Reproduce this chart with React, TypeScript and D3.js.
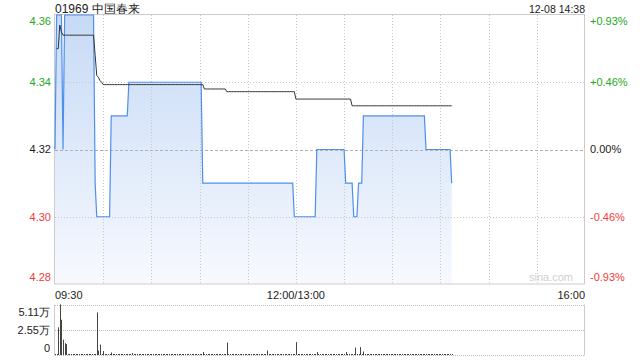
import React from "react";
import * as d3 from "d3";

const W = 640;
const H = 360;

const titleText = "01969 中国春来";
const stampText = "12-08 14:38";
const prevClose = 4.32;
const priceTicks = [4.28, 4.3, 4.32, 4.34, 4.36];
const pctLabels = ["-0.93%", "-0.46%", "0.00%", "+0.46%", "+0.93%"];
const timeLabels = ["09:30", "12:00/13:00", "16:00"];
const timeLabelMinutes = [0, 150, 330];
const volTicks = [0, 2.55, 5.11];
const volTickLabels = ["0", "2.55万", "5.11万"];
const watermark = "sina.com";

// price runs: [price, number of minutes], starting at minute 0 (09:30)
const priceRuns: [number, number][] = [
  [4.32, 1], [4.36, 4], [4.32, 1], [4.36, 19], [4.31, 1], [4.3, 9],
  [4.33, 11], [4.34, 46], [4.31, 57], [4.3, 14], [4.32, 18], [4.31, 5],
  [4.3, 3], [4.31, 3], [4.33, 39], [4.32, 16], [4.31, 1],
];
// average price runs starting at minute 1
const avgStart = 1;
const avgRuns: [number, number][] = [
  [4.35, 2], [4.357, 1], [4.355, 1], [4.354, 20], [4.348, 1], [4.342, 1],
  [4.3415, 1], [4.3405, 1], [4.34, 1], [4.3393, 63], [4.338, 14],
  [4.3372, 43], [4.335, 35], [4.333, 63],
];
// volume per minute (万)
const volumes = [
  0.1, 0.1, 2.8, 5.11, 3.57, 1.55, 1.2, 1.1, 0.1, 0.1, 0.1, 0.1, 0.1, 0.1, 0.1, 0.1, 0.1, 0.1, 0.1, 0.1,
  0.1, 0.1, 0.1, 0.1, 0.1, 0.1, 4.3, 0.45, 1.05, 0.1, 0.4, 0.1, 0.1, 0.1, 0.1, 0.25, 0.1, 0.1, 0.1, 0.1,
  0.1, 0.1, 0.1, 0.1, 0.1, 0.1, 0.1, 0.1, 0.2, 0.1, 0.1, 0.1, 0.1, 0.1, 0.1, 0.1, 0.1, 0.1, 0.1, 0.1,
  0.1, 0.1, 0.1, 0.1, 0.1, 0.1, 0.1, 0.1, 0.1, 0.1, 0.1, 0.1, 0.1, 0.1, 0.1, 0.1, 0.1, 0.1, 0.1, 0.1,
  0.1, 0.1, 0.1, 0.1, 0.1, 0.1, 0.1, 0.1, 0.1, 0.1, 0.1, 0.1, 0.3, 0.1, 0.1, 0.1, 0.1, 0.1, 0.1, 0.1,
  0.1, 0.1, 0.1, 0.1, 0.1, 0.1, 0.1, 1.25, 0.1, 0.1, 0.1, 0.1, 0.1, 0.1, 0.1, 0.1, 0.1, 0.1, 0.1, 0.1,
  0.1, 0.1, 0.1, 0.1, 0.1, 0.1, 0.1, 0.1, 0.1, 0.1, 0.1, 0.1, 0.45, 0.1, 0.1, 0.1, 0.1, 0.1, 0.1, 0.1,
  0.1, 0.1, 0.1, 0.1, 0.1, 0.1, 0.1, 0.1, 0.1, 0.1, 1.3, 0.1, 0.1, 0.1, 0.1, 0.1, 0.1, 0.1, 0.1, 0.1,
  0.1, 0.1, 0.1, 0.3, 0.1, 0.1, 0.1, 0.1, 0.1, 0.1, 0.1, 0.1, 0.1, 0.1, 0.1, 0.1, 0.1, 0.1, 0.1, 0.1,
  0.1, 0.3, 0.1, 0.1, 0.1, 0.1, 0.1, 0.75, 0.1, 0.1, 0.8, 0.1, 0.35, 0.1, 0.1, 0.1, 0.1, 0.1, 0.1, 0.1,
  0.1, 0.1, 0.1, 0.1, 0.1, 0.1, 0.1, 0.1, 0.1, 0.1, 0.1, 0.1, 0.1, 0.1, 0.1, 0.1, 0.1, 0.1, 0.1, 0.1,
  0.1, 0.1, 0.1, 0.1, 0.1, 0.1, 0.1, 0.1, 0.1, 0.1, 0.1, 0.1, 0.1, 0.1, 0.1, 0.1, 0.1, 0.1, 0.1, 0.1,
  0.1, 0.1, 0.1, 0.1, 0.1, 0.1, 0.1, 0.1,
];

const FONT = "'Liberation Sans', Arial, sans-serif";
const UP = "#22a822";
const DOWN = "#f03c3c";
const NEUTRAL = "#222";

function expandRuns(runs: [number, number][], start: number): [number, number][] {
  const out: [number, number][] = [];
  let m = start;
  for (const [v, c] of runs) {
    for (let i = 0; i < c; i++) out.push([m++, v]);
  }
  return out;
}

export default function App() {
  const left = 55;
  const right = 585;
  const top = 15;
  const bottom = 284;
  const vTop = 304.5;
  const vBottom = 355;

  const x = d3.scaleLinear().domain([0, 330]).range([left, right]);
  const y = d3.scaleLinear().domain([4.28, 4.36]).range([bottom, top]);
  const yv = d3.scaleLinear().domain([0, 5.11]).range([vBottom, vTop]);

  const pricePts = expandRuns(priceRuns, 0);
  const avgPts = expandRuns(avgRuns, avgStart);

  const line = d3
    .line<[number, number]>()
    .x((d) => x(d[0]))
    .y((d) => y(d[1]));
  const area = d3
    .area<[number, number]>()
    .x((d) => x(d[0]))
    .y0(bottom)
    .y1((d) => y(d[1]));

  const vGrid = d3.range(30, 330, 30);

  const colorFor = (p: number) =>
    Math.abs(p - prevClose) < 1e-9 ? NEUTRAL : p > prevClose ? UP : DOWN;

  const labelBaseline = (p: number) => {
    const yy = y(p);
    if (p === 4.36) return yy + 9.5;
    if (p === 4.28) return yy - 3.3;
    return yy + 3.8;
  };

  const volBaseline = (v: number) => {
    const yy = yv(v);
    if (v === 5.11) return yy + 11;
    if (v === 0) return yy - 3.5;
    return yy + 4.5;
  };

  return (
    <div style={{ position: "fixed", left: 0, top: 0, width: W, height: H, background: "#fff" }}>
      <svg width={W} height={H} style={{ display: "block" }} fontFamily={FONT}>
        <defs>
          <linearGradient id="fillGrad" gradientUnits="userSpaceOnUse" x1="0" y1={top} x2="0" y2={bottom}>
            <stop offset="0%" stopColor="#c6daf6" />
            <stop offset="100%" stopColor="#f7f9fe" />
          </linearGradient>
        </defs>

        {/* title */}
        <text x={55} y={12.5} fontSize={12} fill="#222">{titleText}</text>
        <text x={right} y={12.5} fontSize={10.5} fill="#222" textAnchor="end">{stampText}</text>

        {/* price area */}
        <path d={area(pricePts) || ""} fill="url(#fillGrad)" />

        {/* grid */}
        {vGrid.map((m) => (
          <line key={"vg" + m} x1={Math.round(x(m)) + 0.5} x2={Math.round(x(m)) + 0.5} y1={top} y2={bottom}
            stroke="#c8c8c8" strokeDasharray="1,2" />
        ))}
        {[4.3, 4.34].map((p) => (
          <line key={"hg" + p} x1={left} x2={right} y1={Math.round(y(p)) + 0.5} y2={Math.round(y(p)) + 0.5}
            stroke="#c8c8c8" strokeDasharray="1,2" />
        ))}
        <line x1={left} x2={right} y1={Math.round(y(4.32)) + 0.5} y2={Math.round(y(4.32)) + 0.5}
          stroke="#b0b0b0" strokeDasharray="3,2" />

        {/* frame */}
        <rect x={left - 0.5} y={top - 0.5} width={right - left} height={bottom - top + 0.5}
          fill="none" stroke="#cccccc" />

        <text x={573} y={281} fontSize={11} fill="#d0d0d0" textAnchor="end">{watermark}</text>

        {/* lines */}
        <path d={line(pricePts) || ""} fill="none" stroke="#4f8fec" strokeWidth={1.2} />
        <path d={line(avgPts) || ""} fill="none" stroke="#333" strokeWidth={1} />

        {/* left axis labels */}
        {priceTicks.map((p) => (
          <text key={"l" + p} x={51} y={labelBaseline(p)} fontSize={11} textAnchor="end" fill={colorFor(p)}>
            {p.toFixed(2)}
          </text>
        ))}
        {/* right axis labels */}
        {priceTicks.map((p, i) => (
          <text key={"r" + p} x={590} y={labelBaseline(p)} fontSize={11} textAnchor="start" fill={colorFor(p)}>
            {pctLabels[i]}
          </text>
        ))}

        {/* time labels */}
        {timeLabels.map((t, i) => (
          <text key={t} x={x(timeLabelMinutes[i])} y={299} fontSize={11} fill="#222"
            textAnchor={i === 0 ? "start" : i === 1 ? "middle" : "end"}>
            {t}
          </text>
        ))}

        {/* volume panel */}
        {volTicks.map((v) => (
          <line key={"vt" + v} x1={left} x2={right} y1={Math.round(yv(v)) + 0.5} y2={Math.round(yv(v)) + 0.5}
            stroke="#bdbdbd" strokeDasharray="1,1" />
        ))}
        <line x1={left - 0.5} x2={left - 0.5} y1={vTop} y2={vBottom + 0.5} stroke="#cccccc" />
        <line x1={right - 0.5} x2={right - 0.5} y1={vTop} y2={vBottom + 0.5} stroke="#cccccc" />
        {volumes.map((v, m) => (
          <line key={"vb" + m} x1={Math.round(x(m)) + 0.5} x2={Math.round(x(m)) + 0.5}
            y1={yv(0)} y2={yv(v)} stroke="#444" strokeWidth={1} />
        ))}
        {volTicks.map((v, i) => (
          <text key={"vl" + v} x={50} y={volBaseline(v)} fontSize={11} textAnchor="end" fill="#222">
            {volTickLabels[i]}
          </text>
        ))}
      </svg>
    </div>
  );
}
